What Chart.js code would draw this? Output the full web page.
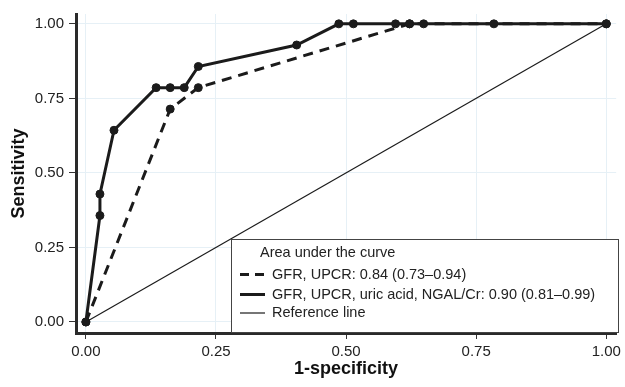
<!DOCTYPE html>
<html>
<head>
<meta charset="utf-8">
<script src="https://cdn.jsdelivr.net/npm/chart.js@4"></script>
<style>
  html, body { margin: 0; padding: 0; background: #fff; }
  #wrap { width: 625px; height: 387px; }
</style>
</head>
<body>
<div id="wrap"><canvas id="rocChart" width="625" height="387"></canvas></div>
<script>
// ROC points (1-specificity, sensitivity)
const fprCombined = [0, 0.027, 0.027, 0.054, 0.135, 0.162, 0.189, 0.216, 0.405, 0.486, 0.514, 0.595, 0.622, 0.649, 0.784, 1];
const tprCombined = [0, 0.357, 0.429, 0.643, 0.786, 0.786, 0.786, 0.857, 0.929, 1, 1, 1, 1, 1, 1, 1];
const fprBasic = [0, 0.162, 0.216, 0.622, 1];
const tprBasic = [0, 0.714, 0.786, 1, 1];
const refX = [0, 1];
const refY = [0, 1];

const xTicks = [0, 0.25, 0.5, 0.75, 1];
const yTicks = [0, 0.25, 0.5, 0.75, 1];

const legendTitle = 'Area under the curve';
const legendLabels = [
  'GFR, UPCR: 0.84 (0.73\u20130.94)',
  'GFR, UPCR, uric acid, NGAL/Cr: 0.90 (0.81\u20130.99)',
  'Reference line'
];

const ink = '#1b1b1b';
const fontFam = '"Liberation Sans", Arial, sans-serif';

function toPoints(xs, ys) {
  return xs.map((x, i) => ({ x: x, y: ys[i] }));
}

// legend box drawn inside the plot, bottom right
const boxLegend = {
  id: 'boxLegend',
  afterDatasetsDraw(chart) {
    const c = chart.ctx;
    const left = 231, top = 239, right = 619, bottom = 332;
    c.save();
    c.fillStyle = '#fff';
    c.fillRect(left, top, right - left, bottom - top);
    c.strokeStyle = '#444';
    c.lineWidth = 1;
    c.strokeRect(left + 0.5, top + 0.5, right - left - 1, bottom - top);

    c.fillStyle = '#222';
    c.font = '14.5px ' + fontFam;
    c.textBaseline = 'middle';
    c.fillText(legendTitle, 260, 253);

    const rows = [274.5, 294.5, 313];
    const styles = [
      { w: 3, dash: [9, 6] },
      { w: 3, dash: [] },
      { w: 1.2, dash: [] }
    ];
    legendLabels.forEach((txt, i) => {
      c.beginPath();
      c.setLineDash(styles[i].dash);
      c.lineWidth = styles[i].w;
      c.strokeStyle = ink;
      c.moveTo(240, rows[i]);
      c.lineTo(265, rows[i]);
      c.stroke();
      c.setLineDash([]);
      c.fillText(txt, 272, rows[i]);
    });
    c.restore();
  }
};

const ctx = document.getElementById('rocChart').getContext('2d');

const myChart = new Chart(ctx, {
  type: 'scatter',
  data: {
    datasets: [
      {
        label: legendLabels[1],
        data: toPoints(fprCombined, tprCombined),
        showLine: true,
        borderColor: ink,
        backgroundColor: ink,
        borderWidth: 3,
        pointRadius: 4,
        pointBorderWidth: 1,
        pointHoverRadius: 4
      },
      {
        label: legendLabels[0],
        data: toPoints(fprBasic, tprBasic),
        showLine: true,
        borderColor: ink,
        backgroundColor: ink,
        borderWidth: 3,
        borderDash: [10, 7],
        pointRadius: 4,
        pointBorderWidth: 1,
        pointHoverRadius: 4
      },
      {
        label: legendLabels[2],
        data: toPoints(refX, refY),
        showLine: true,
        borderColor: ink,
        borderWidth: 1.2,
        pointRadius: 0
      }
    ]
  },
  options: {
    responsive: false,
    animation: false,
    layout: { padding: { left: 0, right: 5, top: 11, bottom: 0 } },
    plugins: {
      legend: { display: false },
      tooltip: { enabled: false }
    },
    scales: {
      x: {
        type: 'linear',
        min: -0.019,
        max: 1.019,
        afterBuildTicks: s => { s.ticks = xTicks.map(v => ({ value: v })); },
        afterFit: s => { s.height = 54; },
        ticks: {
          color: '#222',
          font: { family: fontFam, size: 15 },
          padding: 4,
          callback: v => Number(v).toFixed(2)
        },
        grid: { color: '#e6f0f6', tickColor: '#333', tickLength: 6, lineWidth: 1 },
        border: { display: true, color: '#2a2a2a', width: 3 },
        title: {
          display: true,
          text: '1-specificity',
          color: '#111',
          font: { family: fontFam, size: 18, weight: 'bold' },
          padding: { top: 0, bottom: 7 }
        }
      },
      y: {
        type: 'linear',
        min: -0.037,
        max: 1.033,
        afterBuildTicks: s => { s.ticks = yTicks.map(v => ({ value: v })); },
        afterFit: s => { s.width = 76; },
        ticks: {
          color: '#222',
          font: { family: fontFam, size: 15 },
          padding: 5,
          callback: v => Number(v).toFixed(2)
        },
        grid: { color: '#e6f0f6', tickColor: '#333', tickLength: 7, lineWidth: 1 },
        border: { display: true, color: '#2a2a2a', width: 3 },
        title: {
          display: true,
          text: 'Sensitivity',
          color: '#111',
          font: { family: fontFam, size: 18, weight: 'bold' },
          padding: { top: 8, bottom: 0 }
        }
      }
    }
  },
  plugins: [boxLegend]
});
</script>
</body>
</html>
